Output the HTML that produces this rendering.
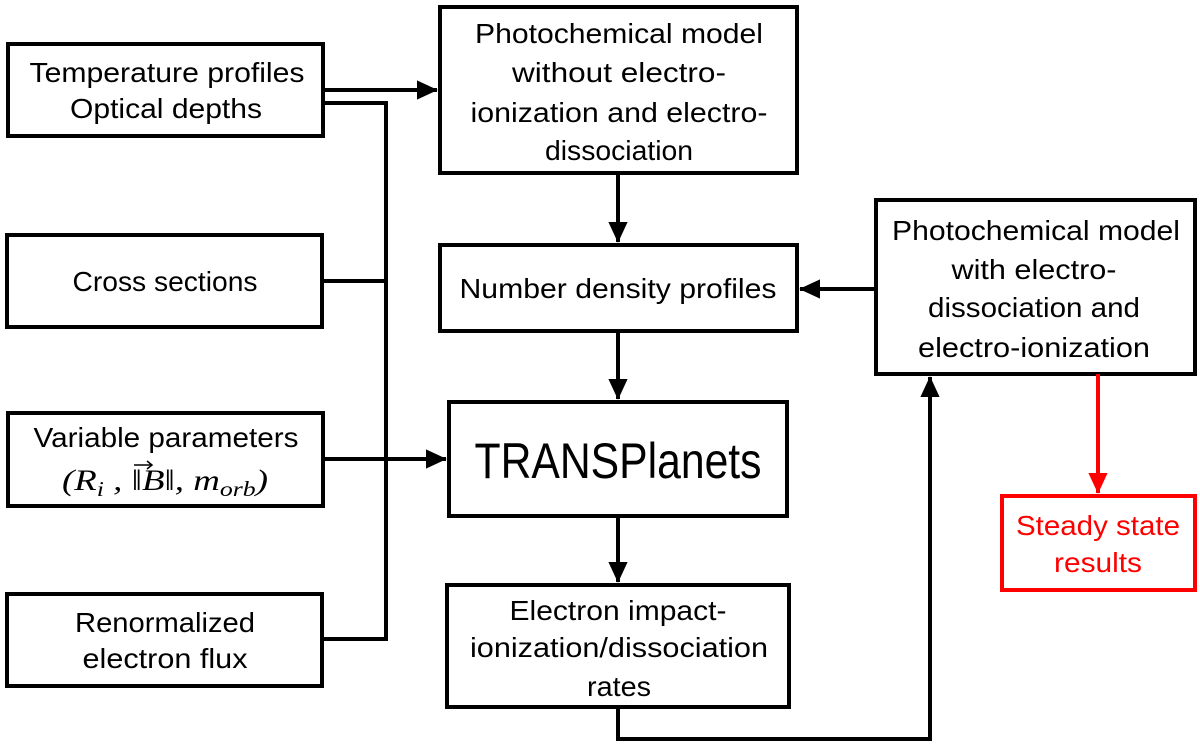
<!DOCTYPE html>
<html><head><meta charset="utf-8"><style>
html,body{margin:0;padding:0;background:#fff;}
svg{display:block;}
text{font-family:"Liberation Sans",sans-serif;font-size:28px;fill:#000;}
</style></head><body>
<svg width="1200" height="746" viewBox="0 0 1200 746" xmlns="http://www.w3.org/2000/svg">
<defs>
<marker id="a" markerWidth="6" markerHeight="6" refX="5" refY="3" orient="auto" markerUnits="strokeWidth"><path d="M0,0.6 L5.2,3 L0,5.4 Z" fill="#000"/></marker>
<marker id="r" markerWidth="6" markerHeight="6" refX="5" refY="3" orient="auto" markerUnits="strokeWidth"><path d="M0,0.6 L5.2,3 L0,5.4 Z" fill="#f00"/></marker>
</defs>
<g fill="none" stroke="#000" stroke-width="4">
<rect x="8" y="44" width="315" height="92"/>
<rect x="7" y="235" width="315" height="92"/>
<rect x="8" y="413" width="315" height="93"/>
<rect x="7" y="594" width="315" height="92"/>
<rect x="440" y="7" width="357" height="166"/>
<rect x="440" y="245" width="357" height="86"/>
<rect x="449" y="402" width="338" height="114"/>
<rect x="447" y="585" width="342" height="122"/>
<rect x="876" y="200" width="319" height="174"/>
<line x1="323" y1="90" x2="437" y2="90" marker-end="url(#a)"/>
<polyline points="323,103 386,103 386,639 322,639"/>
<line x1="322" y1="281" x2="386" y2="281"/>
<line x1="323" y1="459" x2="446" y2="459" marker-end="url(#a)"/>
<line x1="618" y1="173" x2="618" y2="242" marker-end="url(#a)"/>
<line x1="618" y1="331" x2="618" y2="399" marker-end="url(#a)"/>
<line x1="618" y1="516" x2="618" y2="582" marker-end="url(#a)"/>
<line x1="876" y1="289" x2="800" y2="289" marker-end="url(#a)"/>
<polyline points="618,707 618,739 930,739 930,377" marker-end="url(#a)"/>
</g>
<g fill="none" stroke="#f00" stroke-width="4">
<line x1="1098" y1="374" x2="1098" y2="493" marker-end="url(#r)"/>
<rect x="1002" y="496" width="193" height="94"/>
</g>
<g text-anchor="middle">
<text x="167" y="82" textLength="275" lengthAdjust="spacingAndGlyphs">Temperature profiles</text>
<text x="166" y="118" textLength="192" lengthAdjust="spacingAndGlyphs">Optical depths</text>
<text x="165" y="291" textLength="185" lengthAdjust="spacingAndGlyphs">Cross sections</text>
<text x="166" y="447" textLength="265" lengthAdjust="spacingAndGlyphs">Variable parameters</text>
<text x="165" y="632" textLength="180" lengthAdjust="spacingAndGlyphs">Renormalized</text>
<text x="165" y="668" textLength="165" lengthAdjust="spacingAndGlyphs">electron flux</text>
<text x="619" y="43" textLength="288" lengthAdjust="spacingAndGlyphs">Photochemical model</text>
<text x="619" y="82" textLength="214" lengthAdjust="spacingAndGlyphs">without electro-</text>
<text x="619" y="122" textLength="297" lengthAdjust="spacingAndGlyphs">ionization and electro-</text>
<text x="619" y="160" textLength="148" lengthAdjust="spacingAndGlyphs">dissociation</text>
<text x="618" y="298" textLength="317" lengthAdjust="spacingAndGlyphs">Number density profiles</text>
<text x="618" y="478" style="font-size:50px" textLength="287" lengthAdjust="spacingAndGlyphs">TRANSPlanets</text>
<text x="618" y="620" textLength="217" lengthAdjust="spacingAndGlyphs">Electron impact-</text>
<text x="619" y="657" textLength="298" lengthAdjust="spacingAndGlyphs">ionization/dissociation</text>
<text x="619" y="696" textLength="64" lengthAdjust="spacingAndGlyphs">rates</text>
<text x="1036" y="240" textLength="288" lengthAdjust="spacingAndGlyphs">Photochemical model</text>
<text x="1034" y="279" textLength="165" lengthAdjust="spacingAndGlyphs">with electro-</text>
<text x="1034" y="317" textLength="212" lengthAdjust="spacingAndGlyphs">dissociation and</text>
<text x="1034" y="357" textLength="232" lengthAdjust="spacingAndGlyphs">electro-ionization</text>
<text x="1098" y="535" style="fill:#f00" textLength="164" lengthAdjust="spacingAndGlyphs">Steady state</text>
<text x="1098" y="572" style="fill:#f00" textLength="88" lengthAdjust="spacingAndGlyphs">results</text>
</g>
<text x="62" y="490" textLength="206" lengthAdjust="spacingAndGlyphs" style="font-family:'Liberation Serif',serif;font-size:30px;font-style:italic">(R<tspan dy="6" font-size="21">i</tspan><tspan dy="-6"> , ‖B‖, m</tspan><tspan dy="6" font-size="21">orb</tspan><tspan dy="-6">)</tspan></text>
<path d="M134,465 L151,465 M147,461 L152,465 L147,469" stroke="#000" stroke-width="1.5" fill="none"/>
</svg>
</body></html>
